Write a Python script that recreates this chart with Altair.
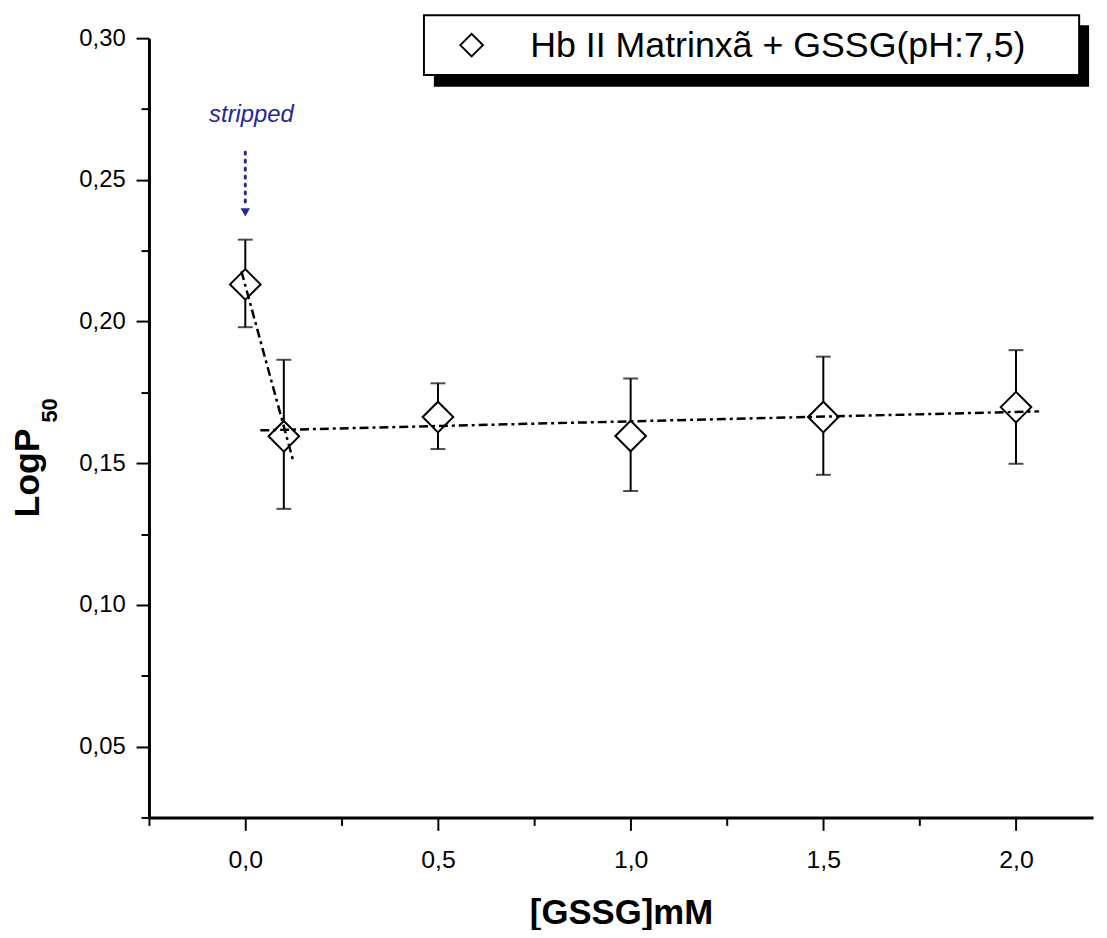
import altair as alt
import pandas as pd

# ---- data ----
conc = [0.0, 0.1, 0.5, 1.0, 1.5, 2.0]
logp50 = [0.2131, 0.1595, 0.1663, 0.1596, 0.1663, 0.1698]
err_low = [0.1980, 0.1339, 0.1550, 0.1402, 0.1459, 0.1498]
err_high = [0.2289, 0.1865, 0.1782, 0.1799, 0.1876, 0.1899]

fit_group = ["steep", "steep", "flat", "flat"]
fit_x = [-0.01, 0.124, 0.039, 2.06]
fit_y = [0.2177, 0.151, 0.1616, 0.1683]

arrow_x = [0.0, 0.0]
arrow_y = [0.2597, 0.2415]
arrowhead_y = [0.2385]
note_x = [0.016]
note_y = [0.273]
note_text = ["stripped"]

x_ticks = [-0.25, 0.0, 0.25, 0.5, 0.75, 1.0, 1.25, 1.5, 1.75, 2.0]
y_ticks = [0.025, 0.05, 0.075, 0.10, 0.125, 0.15, 0.175, 0.20, 0.225, 0.25, 0.275, 0.30]

legend_label = "Hb II Matrinxã + GSSG(pH:7,5)"
x_title = "[GSSG]mM"
y_title_main = "LogP"
y_title_sub = "50"

FONT = "Liberation Sans"
BLUE = "#26259a"

pts = pd.DataFrame({"x": conc, "y": logp50, "lo": err_low, "hi": err_high})
fits = pd.DataFrame({"g": fit_group, "x": fit_x, "y": fit_y})
arrow = pd.DataFrame({"x": arrow_x, "y": arrow_y})
head = pd.DataFrame({"x": [0.0], "y": arrowhead_y})
note = pd.DataFrame({"x": note_x, "y": note_y, "t": note_text})
one = alt.Data(values=[{}])

xscale = alt.Scale(domain=[-0.25, 2.2], nice=False, zero=False)
yscale = alt.Scale(domain=[0.025, 0.30], nice=False, zero=False)

x_axis = alt.Axis(
    values=x_ticks,
    labelExpr="(round(datum.value*4)%2 != 0) ? '' : replace(format(datum.value, '.1f'), '.', ',')",
    tickSize={"condition": {"test": "round(datum.value*4)%2 != 0", "value": 8}, "value": 13},
    title=x_title,
)
y_axis = alt.Axis(
    values=y_ticks,
    labelExpr="(round(datum.value*40)%2 != 0) ? '' : replace(format(datum.value, '.2f'), '.', ',')",
    tickSize={"condition": {"test": "round(datum.value*40)%2 != 0", "value": 8}, "value": 13},
    title=None,
)

X = alt.X("x:Q", scale=xscale, axis=x_axis)
Y = alt.Y("y:Q", scale=yscale, axis=y_axis)

err_rule = alt.Chart(pts).mark_rule(color="black", strokeWidth=2).encode(
    x=X, y=alt.Y("lo:Q", scale=yscale, axis=y_axis), y2="hi:Q"
)
cap_lo = alt.Chart(pts).mark_tick(orient="horizontal", size=15, thickness=2, color="black").encode(
    x=X, y=alt.Y("lo:Q", scale=yscale, axis=y_axis)
)
cap_hi = alt.Chart(pts).mark_tick(orient="horizontal", size=15, thickness=2, color="black").encode(
    x=X, y=alt.Y("hi:Q", scale=yscale, axis=y_axis)
)
points = alt.Chart(pts).mark_point(
    shape="diamond", size=950, filled=True, fill="white", stroke="black", strokeWidth=2, opacity=1
).encode(x=X, y=Y)
fit_lines = alt.Chart(fits).mark_line(
    color="black", strokeWidth=2.5, strokeDash=[9, 4, 3, 4]
).encode(x=X, y=Y, detail="g:N")

arrow_line = alt.Chart(arrow).mark_line(
    color=BLUE, strokeWidth=3, strokeDash=[2, 6], strokeCap="round"
).encode(x=X, y=Y)
arrow_head = alt.Chart(head).mark_point(
    shape="triangle-down", size=90, filled=True, color=BLUE, opacity=1
).encode(x=X, y=Y)
note_txt = alt.Chart(note).mark_text(
    font=FONT, fontSize=24, fontStyle="italic", color=BLUE, align="center", baseline="middle"
).encode(x=X, y=Y, text="t:N")

# legend box with shadow
shadow = alt.Chart(one).mark_rect(color="black").encode(
    x=alt.value(287), x2=alt.value(947), y=alt.value(-13), y2=alt.value(49)
)
box = alt.Chart(one).mark_rect(fill="white", stroke="black", strokeWidth=2).encode(
    x=alt.value(277), x2=alt.value(937), y=alt.value(-23), y2=alt.value(37)
)
leg_sym = alt.Chart(one).mark_point(
    shape="diamond", size=520, filled=True, fill="white", stroke="black", strokeWidth=2, opacity=1
).encode(x=alt.value(325), y=alt.value(7))
leg_txt = alt.Chart(one).mark_text(
    text=legend_label, font=FONT, fontSize=36, align="left", baseline="middle", color="black"
).encode(x=alt.value(384), y=alt.value(8))

# y title with subscript
ytitle = alt.Chart(one).mark_text(
    text=y_title_main, font=FONT, fontSize=36, fontWeight="bold", angle=270,
    align="center", baseline="middle", color="black"
).encode(x=alt.value(-122), y=alt.value(438))
ysub = alt.Chart(one).mark_text(
    text=y_title_sub, font=FONT, fontSize=22, fontWeight="bold", angle=270,
    align="center", baseline="middle", color="black"
).encode(x=alt.value(-100), y=alt.value(375))

chart = alt.layer(
    err_rule, cap_lo, cap_hi, points, fit_lines,
    arrow_line, arrow_head, note_txt,
    shadow, box, leg_sym, leg_txt, ytitle, ysub,
).properties(
    width=951, height=785,
    padding={"left": 142, "top": 27, "right": 6, "bottom": 110},
    autosize=alt.AutoSizeParams(type="none"),
    background="white",
).configure_view(stroke=None).configure_axis(
    grid=False,
    domainColor="black", domainWidth=3,
    tickColor="black", tickWidth=2,
    labelColor="black", titleColor="black",
    labelFont=FONT, titleFont=FONT,
).configure_axisX(
    labelFontSize=25, labelPadding=17,
    titleFontSize=35, titleFontWeight="bold", titlePadding=24,
).configure_axisY(
    labelFontSize=24, labelPadding=11,
)

chart.save("out.html", embed_options={"renderer": "svg", "actions": False})
